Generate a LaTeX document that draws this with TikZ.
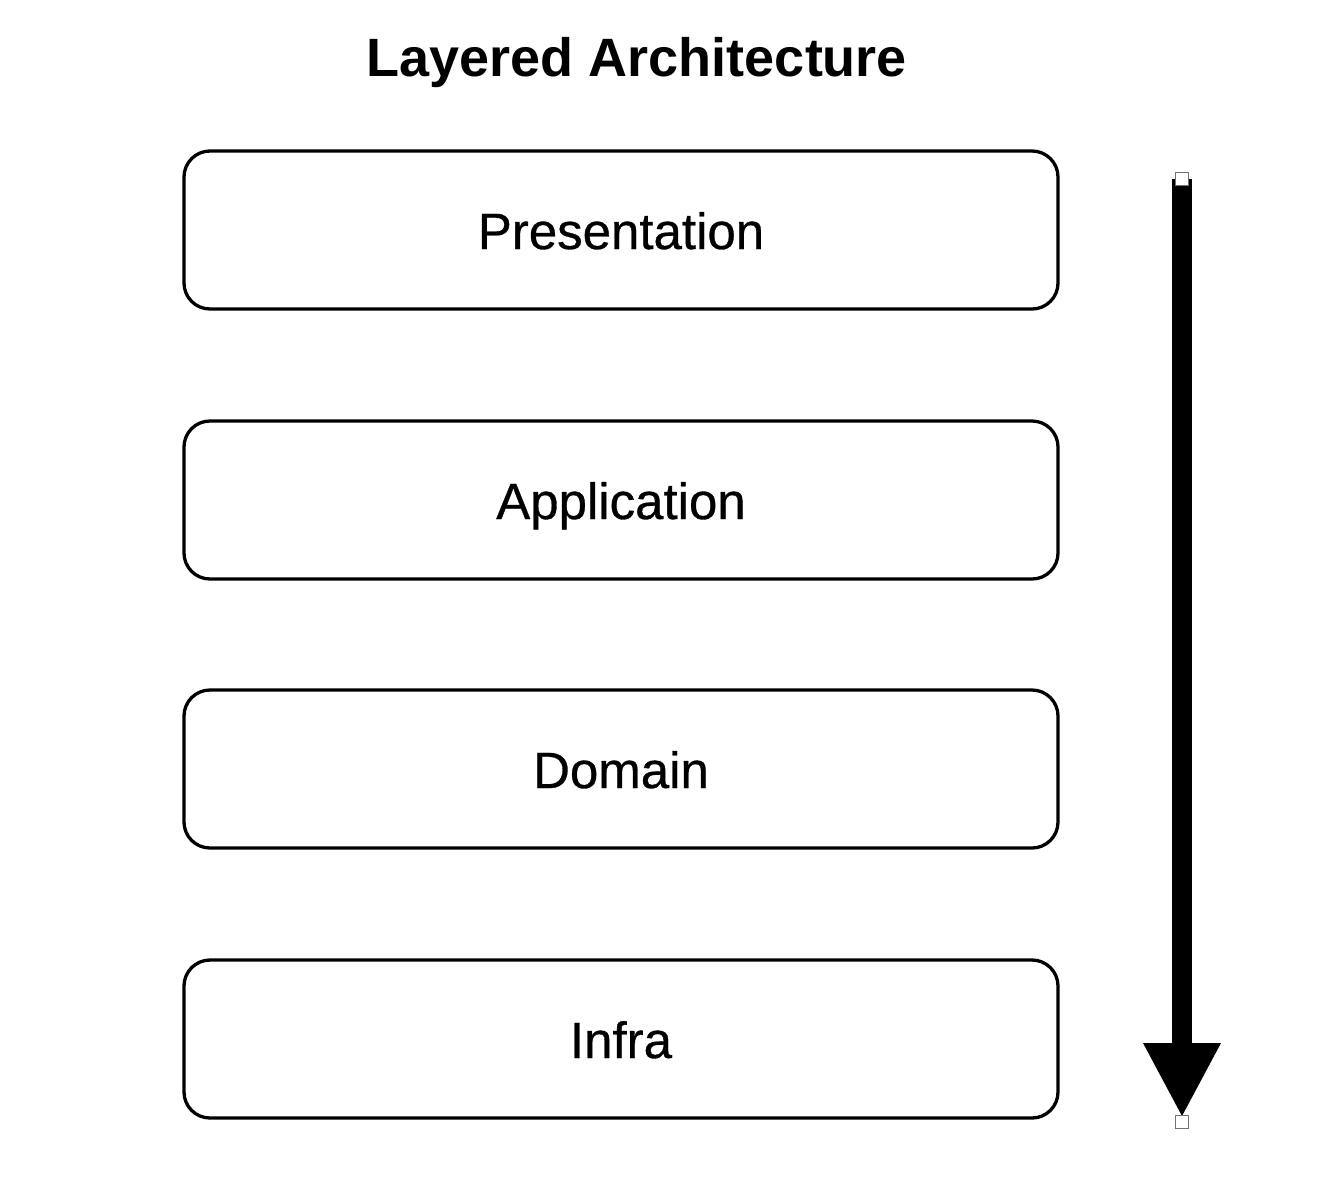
\documentclass[tikz,border=0pt]{standalone}
\usepackage{fontspec}
\setmainfont{Liberation Sans}
\newfontfamily\labelfont[FakeBold=0.6]{Liberation Sans}
\usetikzlibrary{arrows.meta}
\begin{document}
\begin{tikzpicture}[x=1pt,y=-1pt,
  layer/.style={draw=black, line width=3.3pt, rounded corners=26pt, minimum width=874pt, minimum height=158pt, inner sep=0pt},
  label/.style={font=\labelfont\fontsize{51}{60}\selectfont, anchor=base},
  handle/.style={draw=black!55, fill=white, line width=0.8pt, minimum size=13pt, inner sep=0pt},
  flow/.style={line width=20pt, -{Triangle[width=78pt,length=73pt,line width=0pt]}, shorten >=6pt}]
\useasboundingbox (0,0) rectangle (1330,1176);
\node[font=\bfseries\fontsize{54}{64}\selectfont] (title) at (637,63) {Layered Architecture};
\node[layer] (pres) at (621,230) {};
\node[layer] (app) at (621,500) {};
\node[layer] (dom) at (621,769) {};
\node[layer] (inf) at (621,1039) {};
\node[label] (tpres) at (621,249) {Presentation};
\node[label] (tapp) at (621,519) {Application};
\node[label] (tdom) at (621,788) {Domain};
\node[label] (tinf) at (621,1058) {Infra};
\coordinate (atop) at (1182,179);
\coordinate (abot) at (1182,1122);
\draw[flow] (atop) -- (abot);
\node[handle] (htop) at (atop) {};
\node[handle] (hbot) at (abot) {};
\end{tikzpicture}
\end{document}
